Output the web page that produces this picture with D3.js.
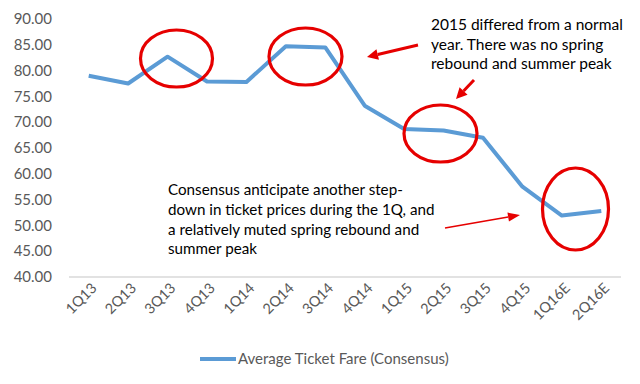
<!DOCTYPE html>
<html><head><meta charset="utf-8">
<script src="https://cdn.jsdelivr.net/npm/d3@7"></script>
<style>body{margin:0;background:#fff;} text{font-family:Lato,"Open Sans",sans-serif;}</style>
</head><body><svg id="c" width="640" height="384"></svg>
<script>
const categories = ["1Q13","2Q13","3Q13","4Q13","1Q14","2Q14","3Q14","4Q14","1Q15","2Q15","3Q15","4Q15","1Q16E","2Q16E"];
const fares = [79.0,77.5,82.7,77.9,77.8,84.7,84.5,73.2,68.7,68.4,67.0,57.5,51.9,52.8];
const yTicks = [40,45,50,55,60,65,70,75,80,85,90];
const seriesName = "Average Ticket Fare (Consensus)";
const note1 = ["2015 differed from a normal","year. There was no spring","rebound and summer peak"];
const note2 = ["Consensus anticipate another step-","down in ticket prices during the 1Q, and","a relatively muted spring rebound and","summer peak"];

const svg = d3.select("#c");
const x = d3.scaleBand().domain(categories).range([69,621]);
const y = d3.scaleLinear().domain([40,90]).range([277,19]);
const cx = c => x(c) + x.bandwidth()/2;

// y labels
svg.append("g").selectAll("text").data(yTicks).join("text")
  .attr("x",52).attr("y",d=>y(d)).attr("dy","0.35em").attr("text-anchor","end")
  .attr("font-size",15).attr("fill","#595959").text(d=>d.toFixed(2));

// x axis line
svg.append("line").attr("x1",69).attr("x2",621).attr("y1",277).attr("y2",277)
  .attr("stroke","#d9d9d9").attr("stroke-width",1.5);

// x labels
svg.append("g").selectAll("text").data(categories).join("text")
  .attr("transform",d=>`translate(${cx(d)+9},${289}) rotate(-45)`)
  .attr("text-anchor","end").attr("font-size",14.5).attr("fill","#595959").text(d=>d);

// line
const line = d3.line().x((d,i)=>cx(categories[i])).y(d=>y(d));
svg.append("path").datum(fares).attr("d",line).attr("fill","none")
  .attr("stroke","#5b9bd5").attr("stroke-width",4).attr("stroke-linejoin","round");

// ellipses
const ell = [
  {cx:176.5, cy:58.5, rx:36, ry:28.5},
  {cx:305.5, cy:56.5, rx:36.5, ry:28.5},
  {cx:440.5, cy:133.5, rx:36.5, ry:28.5},
  {cx:575.5, cy:209, rx:33, ry:41}
];
svg.append("g").selectAll("ellipse").data(ell).join("ellipse")
  .attr("cx",d=>d.cx).attr("cy",d=>d.cy).attr("rx",d=>d.rx).attr("ry",d=>d.ry)
  .attr("fill","none").attr("stroke","#e60000").attr("stroke-width",3.2);

// arrows
function arrow(x1,y1,x2,y2,w,hl,hw){
  const a = Math.atan2(y2-y1,x2-x1);
  const bx = x2 - hl*Math.cos(a), by = y2 - hl*Math.sin(a);
  svg.append("line").attr("x1",x1).attr("y1",y1).attr("x2",bx).attr("y2",by)
    .attr("stroke","#e60000").attr("stroke-width",w);
  const px = -Math.sin(a)*hw, py = Math.cos(a)*hw;
  svg.append("path").attr("d",`M${x2},${y2}L${bx+px},${by+py}L${bx-px},${by-py}Z`).attr("fill","#e60000");
}
arrow(418,45,367,57,3,11,5.5);
arrow(474,80,456,99,3,11,5.5);
arrow(445,228,520,215,1.6,12,4.5);

// notes
svg.append("g").selectAll("text").data(note1).join("text")
  .attr("x",431).attr("y",(d,i)=>25+i*19.5).attr("dy","0.35em")
  .attr("font-size",15.5).attr("fill","#000").text(d=>d);
svg.append("g").selectAll("text").data(note2).join("text")
  .attr("x",168).attr("y",(d,i)=>190+i*19.7).attr("dy","0.35em")
  .attr("font-size",15.2).attr("fill","#000").text(d=>d);

// legend
svg.append("line").attr("x1",200).attr("x2",236).attr("y1",359).attr("y2",359)
  .attr("stroke","#5b9bd5").attr("stroke-width",4);
svg.append("text").attr("x",238).attr("y",359).attr("dy","0.35em")
  .attr("font-size",15).attr("fill","#595959").text(seriesName);
</script></body></html>
